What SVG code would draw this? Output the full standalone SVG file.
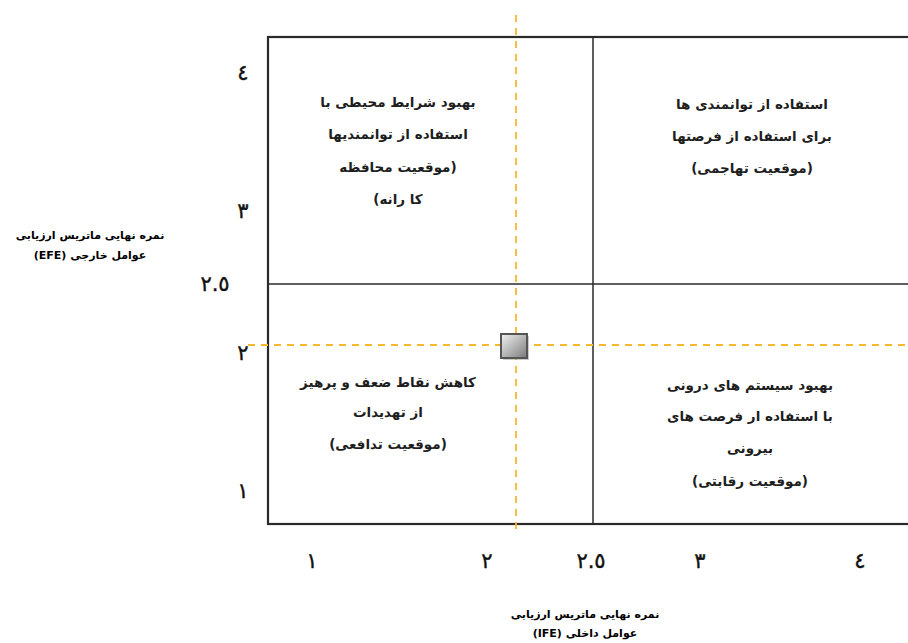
<svg xmlns="http://www.w3.org/2000/svg" width="908" height="643" viewBox="0 0 908 643">
<style>
.q{font-family:"DejaVu Sans",sans-serif;font-size:13.5px;font-weight:bold;fill:#1e1e1e;text-anchor:middle;direction:rtl}
.ax{font-family:"DejaVu Sans",sans-serif;font-size:11px;font-weight:bold;fill:#000;text-anchor:middle;direction:rtl}
.n{font-family:"DejaVu Sans",sans-serif;font-size:21px;fill:#111;stroke:#111;stroke-width:0.4;text-anchor:middle}
.dash{stroke:#f5b82e;stroke-width:1.8;stroke-dasharray:7 6;fill:none}
</style>
<defs>
<linearGradient id="g" x1="0" y1="0" x2="1" y2="1">
<stop offset="0" stop-color="#f2f2f2"/>
<stop offset="1" stop-color="#7a7a7a"/>
</linearGradient>
</defs>
<rect width="908" height="643" fill="#fff"/>
<g id="grid">
<rect x="268" y="37" width="660" height="487" fill="none" stroke="#2a2a2a" stroke-width="2.2"/>
<line x1="593" y1="37" x2="593" y2="524" stroke="#2a2a2a" stroke-width="1.5"/>
<line x1="268" y1="284" x2="908" y2="284" stroke="#2a2a2a" stroke-width="1.5"/>
</g>
<g id="connectors">
<line class="dash" x1="516" y1="15" x2="516" y2="532"/>
<line class="dash" x1="248" y1="345" x2="908" y2="345"/>
</g>
<g id="point">
<rect x="503" y="336" width="26" height="24" fill="#999" opacity="0.5"/>
<rect x="501" y="334" width="26" height="24" fill="url(#g)" stroke="#555" stroke-width="2"/>
</g>
<g id="q-conservative">
<text class="q" x="398" y="107">بهبود شرایط  محیطی با</text>
<text class="q" x="398" y="139">استفاده از توانمندیها</text>
<text class="q" x="398" y="172">(موقعیت محافظه</text>
<text class="q" x="398" y="204">کا رانه)</text>
</g>
<g id="q-aggressive">
<text class="q" x="752" y="109">استفاده از توانمندی ها</text>
<text class="q" x="752" y="141">برای استفاده از فرصتها</text>
<text class="q" x="752" y="173">(موقعیت تهاجمی)</text>
</g>
<g id="q-defensive">
<text class="q" x="388" y="387">کاهش نقاط ضعف و پرهیز</text>
<text class="q" x="388" y="417">از تهدیدات</text>
<text class="q" x="388" y="449">(موقعیت تدافعی)</text>
</g>
<g id="q-competitive">
<text class="q" x="750" y="390">بهبود سیستم های درونی</text>
<text class="q" x="750" y="421">با استفاده ار فرصت های</text>
<text class="q" x="750" y="453">بیرونی</text>
<text class="q" x="750" y="486">(موقعیت رقابتی)</text>
</g>
<g id="y-axis">
<text class="n" x="243" y="80">٤</text>
<text class="n" x="243" y="218">٣</text>
<text class="n" x="215" y="291">٢.٥</text>
<text class="n" x="243" y="360">٢</text>
<text class="n" x="243" y="498">١</text>
<text class="ax" x="90" y="239">نمره نهایی ماتریس ارزیابی</text>
<text class="ax" x="90" y="259">عوامل خارجی (EFE)</text>
</g>
<g id="x-axis">
<text class="n" x="312" y="568">١</text>
<text class="n" x="487" y="568">٢</text>
<text class="n" x="591" y="568">٢.٥</text>
<text class="n" x="700" y="568">٣</text>
<text class="n" x="860" y="568">٤</text>
<text class="ax" x="585" y="618">نمره نهایی ماتریس ارزیابی</text>
<text class="ax" x="585" y="637">عوامل داخلی (IFE)</text>
</g>
</svg>
